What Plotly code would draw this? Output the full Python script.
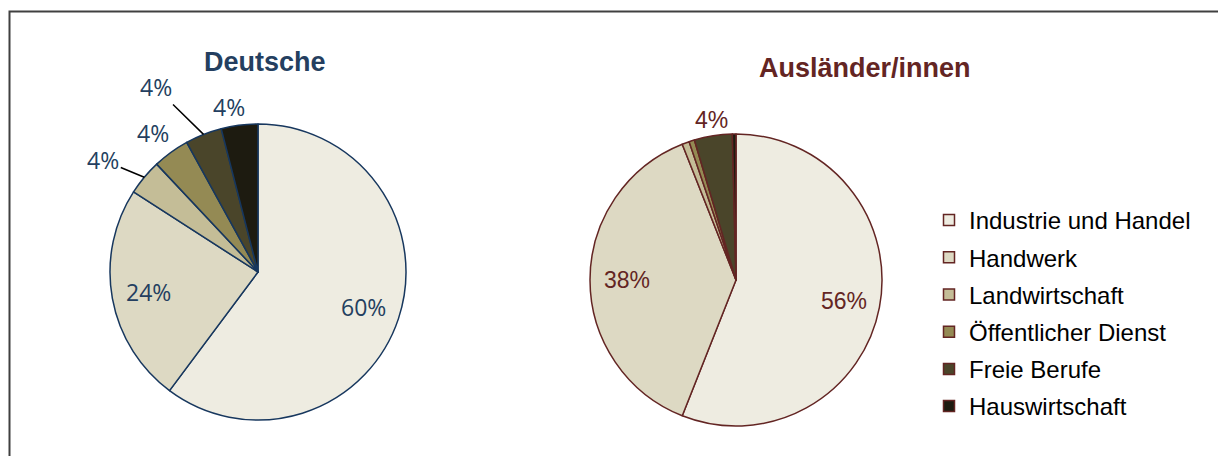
import math
import plotly.graph_objects as go

kategorien = ['Industrie und Handel', 'Handwerk', 'Landwirtschaft',
              'Öffentlicher Dienst', 'Freie Berufe', 'Hauswirtschaft']
farben = ['#EEECE1', '#DDD9C3', '#C4BD97', '#948A54', '#4A452A', '#1D1B10']

werte_deutsche = [60.2, 23.9, 3.9, 4.0, 4.0, 4.0]
werte_auslaender = [56.0, 38.0, 0.8, 0.6, 4.2, 0.4]

# welche Prozentwerte beschriftet werden
zeige_deutsche = [True, True, True, True, True, True]
zeige_auslaender = [True, True, False, False, True, False]

BLAU = '#243F60'
ROT = '#632523'

# die Seite hat 8px Rand, daher ist die Grafik etwas kleiner
W, H = 1218, 448
OFF = 8


def px(x):
    return (x - OFF) / W


def py(y):
    return 1 - (y - OFF) / H


# Mittelpunkt und Radius der Kreise (Seitenpixel)
KREIS_D = (258, 272, 148)
KREIS_A = (736, 280, 146)

# Beschriftung je Stück: (innen?, Versatz x, Versatz y, Linie?)
LAGE_D = [(True, 0, 0, False), (True, 0, 0, False),
          (False, -41, -17, True), (False, -18, -19, False),
          (False, -48, -47, True), (False, -10, -18, False)]
LAGE_A = [(True, 0, 0, False), (True, 0, 0, False),
          (False, 0, 0, False), (False, 0, 0, False),
          (False, -2, -16, False), (False, 0, 0, False)]


def domain(kreis):
    cx, cy, r = kreis
    return dict(x=[px(cx - r), px(cx + r)], y=[py(cy + r), py(cy - r)])


def beschriften(fig, werte, zeige, kreis, lage, farbe, schrift):
    cx, cy, r = kreis
    summe = sum(werte)
    kum = 0
    for w, z, (innen, dx, dy, linie) in zip(werte, zeige, lage):
        mitte = (kum + w / 2) / summe * 2 * math.pi
        kum += w
        if not z:
            continue
        rr = r * 0.75 if innen else r
        x = cx + rr * math.sin(mitte)
        y = cy - rr * math.cos(mitte)
        fig.add_annotation(
            text=f'{round(w / summe * 100)}%',
            x=px(x), y=py(y), xref='paper', yref='paper',
            xanchor='center', yanchor='middle',
            showarrow=not innen, ax=dx, ay=dy,
            arrowhead=0, arrowwidth=1.5, standoff=0,
            arrowcolor='black' if linie else 'rgba(0,0,0,0)',
            font=dict(family=schrift, size=23, color=farbe),
        )


fig = go.Figure()

fig.add_trace(go.Pie(
    labels=kategorien,
    values=werte_deutsche,
    sort=False,
    direction='clockwise',
    marker=dict(colors=farben, line=dict(color='#17375E', width=1.5)),
    textinfo='none',
    domain=domain(KREIS_D),
    showlegend=False,
    hoverinfo='label+percent',
))

fig.add_trace(go.Pie(
    labels=kategorien,
    values=werte_auslaender,
    sort=False,
    direction='clockwise',
    marker=dict(colors=farben, line=dict(color=ROT, width=1.5)),
    textinfo='none',
    domain=domain(KREIS_A),
    showlegend=False,
    hoverinfo='label+percent',
))

beschriften(fig, werte_deutsche, zeige_deutsche, KREIS_D, LAGE_D, BLAU, 'Open Sans')
beschriften(fig, werte_auslaender, zeige_auslaender, KREIS_A, LAGE_A, ROT, 'Liberation Sans')

# Legende als eigene Einträge, damit der Abstand passt
for i, (name, farbe) in enumerate(zip(kategorien, farben)):
    fig.add_trace(go.Scatter(
        x=[None], y=[None],
        mode='markers',
        name=name,
        legendgroup=f'g{i}',
        marker=dict(symbol='square', size=11, color=farbe,
                    line=dict(color=ROT, width=1.5)),
    ))

fig.add_annotation(text='<b>Deutsche</b>', x=px(265), y=py(62),
                   xref='paper', yref='paper', showarrow=False,
                   xanchor='center', yanchor='middle',
                   font=dict(family='Liberation Sans', size=27, color=BLAU))
fig.add_annotation(text='<b>Ausländer/innen</b>', x=px(865), y=py(68),
                   xref='paper', yref='paper', showarrow=False,
                   xanchor='center', yanchor='middle',
                   font=dict(family='Liberation Sans', size=27, color=ROT))

fig.add_shape(type='rect', xref='paper', yref='paper',
              x0=px(9.5), x1=1.02, y0=-0.05, y1=py(11.5),
              line=dict(color='#404040', width=2))

fig.update_layout(
    width=W, height=H,
    margin=dict(l=0, r=0, t=0, b=0),
    paper_bgcolor='white',
    plot_bgcolor='white',
    xaxis=dict(visible=False),
    yaxis=dict(visible=False),
    legend=dict(x=px(929), y=py(198), xanchor='left', yanchor='top',
                traceorder='grouped', tracegroupgap=3,
                font=dict(family='Liberation Sans', size=24, color='black'),
                bgcolor='rgba(0,0,0,0)'),
)

fig.write_html("out.html")
